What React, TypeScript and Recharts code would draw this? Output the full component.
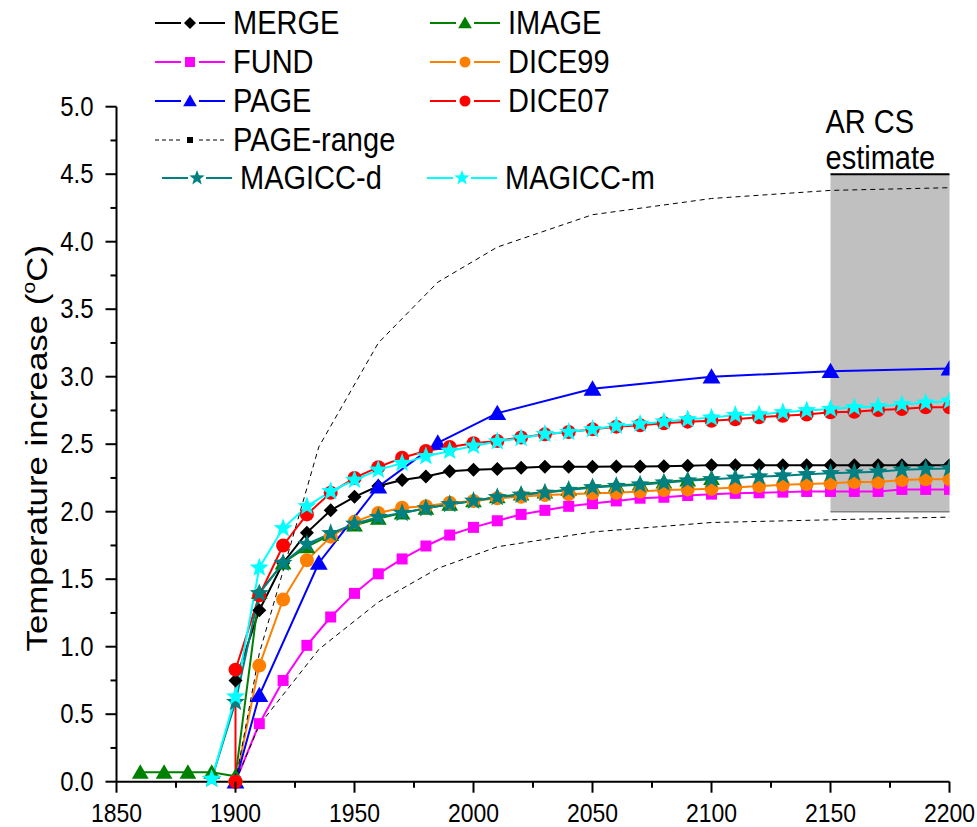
import { LineChart, Line, XAxis, YAxis, ReferenceArea, ReferenceLine, Legend } from "recharts";

const FONT = "'Liberation Sans', Arial, sans-serif";

// x positions
const decade = [1900, 1910, 1920, 1930, 1940, 1950, 1960, 1970, 1980, 1990, 2000, 2010, 2020, 2030, 2040, 2050, 2060, 2070, 2080, 2090, 2100, 2110, 2120, 2130, 2140, 2150, 2160, 2170, 2180, 2190, 2200];
const imageYears = [1860, 1870, 1880, 1890, 1900, 1910, 1920, 1930, 1940, 1950, 1960, 1970, 1980, 1990, 2000, 2010, 2020, 2030, 2040, 2050, 2060, 2070, 2080, 2090, 2100];
const magiccYears = [1890, ...decade];
const dice07Years = [1900, ...decade];
const pageYears = [1900, 1910, 1935, 1960, 1985, 2010, 2050, 2100, 2150, 2200];

// temperature increase (°C)
const merge = [0.75, 1.27, 1.62, 1.845, 2.01, 2.11, 2.19, 2.235, 2.26, 2.3, 2.31, 2.316, 2.326, 2.333, 2.333, 2.333, 2.335, 2.335, 2.337, 2.34, 2.345, 2.345, 2.345, 2.345, 2.345, 2.345, 2.345, 2.345, 2.345, 2.345, 2.345];
const image = [0.07, 0.07, 0.07, 0.07, 0.04, 1.4, 1.62, 1.74, 1.83, 1.9, 1.95, 1.99, 2.025, 2.055, 2.08, 2.11, 2.13, 2.145, 2.165, 2.185, 2.195, 2.205, 2.22, 2.235, 2.245];
const fund = [0, 0.43, 0.75, 1.01, 1.22, 1.395, 1.54, 1.65, 1.746, 1.827, 1.884, 1.933, 1.98, 2.01, 2.04, 2.06, 2.08, 2.1, 2.107, 2.12, 2.13, 2.136, 2.14, 2.145, 2.15, 2.15, 2.15, 2.15, 2.165, 2.165, 2.165];
const dice99 = [0, 0.86, 1.35, 1.64, 1.815, 1.925, 1.99, 2.03, 2.04, 2.067, 2.08, 2.1, 2.11, 2.124, 2.13, 2.136, 2.14, 2.15, 2.16, 2.165, 2.17, 2.18, 2.19, 2.2, 2.205, 2.21, 2.22, 2.22, 2.235, 2.24, 2.24];
const page = [0, 0.64, 1.62, 2.185, 2.51, 2.73, 2.91, 3.0, 3.04, 3.06];
const dice07 = [0, 0.83, 1.38, 1.75, 1.98, 2.14, 2.25, 2.33, 2.4, 2.45, 2.48, 2.507, 2.524, 2.55, 2.573, 2.59, 2.61, 2.63, 2.64, 2.655, 2.667, 2.674, 2.684, 2.7, 2.71, 2.72, 2.736, 2.74, 2.753, 2.76, 2.773, 2.773];
const pageHigh = [0, 0.95, 2.48, 3.25, 3.7, 3.96, 4.2, 4.32, 4.38, 4.4];
const pageLow = [0, 0.42, 0.98, 1.33, 1.58, 1.74, 1.85, 1.92, 1.94, 1.96];
const magiccD = [0.02, 0.59, 1.395, 1.62, 1.76, 1.84, 1.91, 1.96, 1.99, 2.025, 2.055, 2.08, 2.107, 2.124, 2.14, 2.16, 2.18, 2.19, 2.2, 2.215, 2.23, 2.24, 2.25, 2.26, 2.267, 2.277, 2.284, 2.29, 2.296, 2.31, 2.316, 2.32];
const magiccM = [0.02, 0.63, 1.585, 1.877, 2.04, 2.15, 2.235, 2.31, 2.36, 2.41, 2.45, 2.487, 2.52, 2.544, 2.575, 2.59, 2.61, 2.635, 2.65, 2.667, 2.684, 2.696, 2.716, 2.72, 2.736, 2.75, 2.76, 2.773, 2.78, 2.795, 2.807, 2.82];

// AR climate-sensitivity estimate box
const arYears = [2150, 2200];
const arRange = [2.0, 4.5];

const xTicks = [1850, 1875, 1900, 1925, 1950, 1975, 2000, 2025, 2050, 2075, 2100, 2125, 2150, 2175, 2200];
const yTicks = [0, 0.25, 0.5, 0.75, 1, 1.25, 1.5, 1.75, 2, 2.25, 2.5, 2.75, 3, 3.25, 3.5, 3.75, 4, 4.25, 4.5, 4.75, 5];

const pts = (xs: number[], ys: number[]) => xs.map((x, i) => ({ x, y: ys[i] }));

type Shape = "diamond" | "triangle" | "square" | "circle" | "star" | "tiny";

function Marker({ shape, cx, cy, color, s }: { shape: Shape; cx: number; cy: number; color: string; s: number }) {
  if (cx == null || cy == null) return null;
  switch (shape) {
    case "diamond":
      return <path d={`M${cx},${cy - s}L${cx + s},${cy}L${cx},${cy + s}L${cx - s},${cy}Z`} fill={color} />;
    case "triangle":
      return <path d={`M${cx},${cy - s}L${cx + s * 1.05},${cy + s * 0.8}L${cx - s * 1.05},${cy + s * 0.8}Z`} fill={color} />;
    case "square":
    case "tiny":
      return <rect x={cx - s} y={cy - s} width={s * 2} height={s * 2} fill={color} />;
    case "circle":
      return <circle cx={cx} cy={cy} r={s} fill={color} />;
    case "star": {
      const p: string[] = [];
      for (let k = 0; k < 10; k++) {
        const r = k % 2 === 0 ? s : s * 0.42;
        const a = -Math.PI / 2 + (k * Math.PI) / 5;
        p.push(`${cx + r * Math.cos(a)},${cy + r * Math.sin(a)}`);
      }
      return <polygon points={p.join(" ")} fill={color} />;
    }
  }
  return null;
}

// text slightly stretched vertically, like the original export
function Txt({ x, y, size, anchor, children }: { x: number; y: number; size: number; anchor?: string; children: any }) {
  return (
    <text transform={`translate(${x},${y}) scale(1,1.15)`} textAnchor={anchor || "start"} fontSize={size} fontFamily={FONT} fill="#000">
      {children}
    </text>
  );
}

const series = [
  { name: "MERGE", color: "#000000", shape: "diamond" as Shape, size: 7, data: pts(decade, merge) },
  { name: "IMAGE", color: "#008000", shape: "triangle" as Shape, size: 8, data: pts(imageYears, image) },
  { name: "FUND", color: "#ff00ff", shape: "square" as Shape, size: 5.5, data: pts(decade, fund) },
  { name: "DICE99", color: "#ff8000", shape: "circle" as Shape, size: 7, data: pts(decade, dice99) },
  { name: "PAGE", color: "#0000ff", shape: "triangle" as Shape, size: 8.5, data: pts(pageYears, page) },
  { name: "DICE07", color: "#ff0000", shape: "circle" as Shape, size: 7, data: pts(dice07Years, dice07) },
  { name: "MAGICC-d", color: "#008080", shape: "star" as Shape, size: 10, data: pts(magiccYears, magiccD) },
  { name: "MAGICC-m", color: "#00ffff", shape: "star" as Shape, size: 10, data: pts(magiccYears, magiccM) },
];

const legendItems = [
  { name: "MERGE", x: 155, y: 23 },
  { name: "IMAGE", x: 430, y: 23 },
  { name: "FUND", x: 155, y: 62 },
  { name: "DICE99", x: 430, y: 62 },
  { name: "PAGE", x: 155, y: 101 },
  { name: "DICE07", x: 430, y: 101 },
  { name: "PAGE-range", x: 155, y: 140 },
  { name: "MAGICC-d", x: 162, y: 178 },
  { name: "MAGICC-m", x: 427, y: 178 },
];

const legendSize: Record<Shape, number> = { diamond: 6, triangle: 6.5, square: 5, circle: 5.5, star: 8, tiny: 3 };

function LegendBox() {
  return (
    <svg width={977} height={200} style={{ display: "block" }}>
      {legendItems.map(({ name, x, y }) => {
        const s = series.find(d => d.name === name);
        const color = s ? s.color : "#000";
        const shape: Shape = s ? s.shape : "tiny";
        const dash = s ? undefined : "4 3";
        const w = s ? 2 : 1;
        return (
          <g key={name}>
            <line x1={x} x2={x + 26} y1={y} y2={y} stroke={color} strokeWidth={w} strokeDasharray={dash} />
            <line x1={x + 44} x2={x + 70} y1={y} y2={y} stroke={color} strokeWidth={w} strokeDasharray={dash} />
            <Marker shape={shape} cx={x + 35} cy={y} color={color} s={legendSize[shape]} />
            <Txt x={x + 78} y={y + 11} size={29}>{name}</Txt>
          </g>
        );
      })}
    </svg>
  );
}

const XTick = (p: any) => {
  const v = p.payload.value;
  const major = v % 50 === 0;
  return (
    <g>
      <line x1={p.x} x2={p.x} y1={p.y} y2={p.y + (major ? 11 : 6)} stroke="#000" strokeWidth={2} />
      {major && <Txt x={p.x} y={p.y + 40} size={23} anchor="middle">{v}</Txt>}
    </g>
  );
};

const YTick = (p: any) => {
  const v = p.payload.value;
  const major = Math.abs(v * 2 - Math.round(v * 2)) < 1e-6;
  return (
    <g>
      <line x1={p.x - (major ? 11 : 6)} x2={p.x} y1={p.y} y2={p.y} stroke="#000" strokeWidth={2} />
      {major && <Txt x={p.x - 23} y={p.y + 9} size={24} anchor="end">{v.toFixed(1)}</Txt>}
    </g>
  );
};

const YTitle = (p: any) => {
  const vb = p.viewBox || {};
  const cx = 47;
  const cy = vb.y + vb.height / 2 + 4;
  return (
    <text transform={`translate(${cx},${cy}) rotate(-90) scale(1.2,1)`} textAnchor="middle" fontSize={29} fontFamily={FONT} fill="#000">
      Temperature increase (<tspan fontSize={18} dy={-12}>o</tspan><tspan dy={12}>C)</tspan>
    </text>
  );
};

const ARLabel = (p: any) => {
  const vb = p.viewBox;
  return (
    <g>
      <Txt x={vb.x - 5} y={vb.y - 41} size={29}>AR CS</Txt>
      <Txt x={vb.x - 5} y={vb.y - 5} size={29}>estimate</Txt>
    </g>
  );
};

export default function App() {
  return (
    <div style={{ position: "absolute", left: 0, top: 0, background: "#fff" }}>
      <LineChart width={977} height={827} margin={{ top: 106.7, right: 27.5, bottom: 15.3, left: 56.5 }}>
        <XAxis
          type="number"
          dataKey="x"
          domain={[1850, 2200]}
          ticks={xTicks}
          interval={0}
          height={30}
          tickSize={0}
          tickMargin={0}
          tickLine={false}
          axisLine={{ stroke: "#000", strokeWidth: 2 }}
          tick={<XTick />}
          allowDataOverflow
        />
        <YAxis
          type="number"
          domain={[0, 5]}
          ticks={yTicks}
          interval={0}
          width={60}
          tickSize={0}
          tickMargin={0}
          tickLine={false}
          axisLine={{ stroke: "#000", strokeWidth: 2 }}
          tick={<YTick />}
          label={{ content: <YTitle /> }}
        />
        <ReferenceArea
          x1={arYears[0]}
          x2={arYears[1]}
          y1={arRange[0]}
          y2={arRange[1]}
          fill="#c0c0c0"
          fillOpacity={1}
          stroke="none"
          label={ARLabel}
        />
        <ReferenceLine segment={[{ x: arYears[0], y: arRange[1] }, { x: arYears[1], y: arRange[1] }]} stroke="#000" strokeWidth={2} />
        <ReferenceLine segment={[{ x: arYears[0], y: arRange[0] }, { x: arYears[1], y: arRange[0] }]} stroke="#808080" strokeWidth={1.5} />
        <Legend layout="vertical" align="center" verticalAlign="middle" wrapperStyle={{ top: 0, left: 0, width: 977, height: 200 }} content={() => <LegendBox />} />
        {series.slice(0, 6).map(s => (
          <Line
            key={s.name}
            data={s.data}
            dataKey="y"
            name={s.name}
            type="linear"
            stroke={s.color}
            strokeWidth={2}
            isAnimationActive={false}
            activeDot={false}
            dot={(d: any) => <Marker key={`${s.name}-${d.index}`} shape={s.shape} cx={d.cx} cy={d.cy} color={s.color} s={s.size} />}
          />
        ))}
        <Line data={pts(pageYears, pageHigh)} dataKey="y" name="PAGE-range" type="linear" stroke="#000" strokeWidth={1} strokeDasharray="5 4" dot={false} activeDot={false} isAnimationActive={false} />
        <Line data={pts(pageYears, pageLow)} dataKey="y" name="PAGE-range low" type="linear" stroke="#000" strokeWidth={1} strokeDasharray="5 4" dot={false} activeDot={false} isAnimationActive={false} />
        {series.slice(6).map(s => (
          <Line
            key={s.name}
            data={s.data}
            dataKey="y"
            name={s.name}
            type="linear"
            stroke={s.color}
            strokeWidth={2}
            isAnimationActive={false}
            activeDot={false}
            dot={(d: any) => <Marker key={`${s.name}-${d.index}`} shape={s.shape} cx={d.cx} cy={d.cy} color={s.color} s={s.size} />}
          />
        ))}
      </LineChart>
    </div>
  );
}
